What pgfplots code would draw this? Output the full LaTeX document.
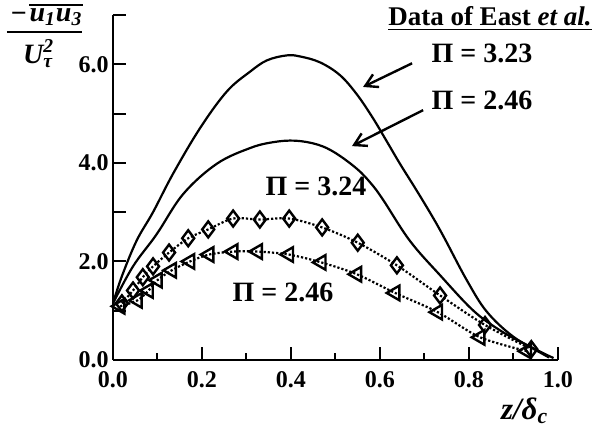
\documentclass[border=0pt]{standalone}
\usepackage{fontspec}
\setmainfont{Liberation Serif}
\usepackage{pgfplots}
\pgfplotsset{compat=1.18}
\usetikzlibrary{arrows.meta}
\begin{document}
\begin{tikzpicture}
\begin{axis}[
  at={(0,0)}, anchor=south west,
  scale only axis, width=222.5pt, height=172.5pt,
  xmin=0, xmax=1, ymin=0, ymax=7,
  axis lines=left,
  axis line style={-, line width=1.4pt},
  tick align=inside,
  every tick/.style={black, line width=1pt},
  major tick length=6.5pt, minor tick length=3.5pt,
  xtick={0,0.2,0.4,0.6,0.8,1.0},
  xticklabels={0.0,0.2,0.4,0.6,0.8,1.0},
  minor xtick={0.1,0.3,0.5,0.7,0.9},
  ytick={0,1,2,3,4,5,6,7},
  yticklabels={0.0,,2.0,,4.0,,6.0,},
  tick label style={font=\fontsize{12}{14}\selectfont\bfseries},
  xticklabel style={yshift=-2pt},
  yticklabel style={inner xsep=2pt},
  clip=false,
]
% solid curve Pi = 3.23
\addplot[black, line width=1.1pt, smooth, tension=0.6] coordinates {
(0,1.15) (0.02,1.7) (0.053,2.42) (0.09,3.0) (0.135,3.78) (0.196,4.71)
(0.256,5.45) (0.308,5.85) (0.346,6.08) (0.39,6.18) (0.42,6.16) (0.465,6.04)
(0.51,5.78) (0.548,5.39) (0.584,4.91) (0.615,4.44) (0.645,3.98) (0.683,3.43)
(0.719,2.89) (0.745,2.47) (0.795,1.62) (0.84,0.98) (0.9,0.47) (0.96,0.17) (0.99,0.04)};
% solid curve Pi = 2.46
\addplot[black, line width=1.1pt, smooth, tension=0.6] coordinates {
(0,1.15) (0.045,1.9) (0.098,2.55) (0.158,3.37) (0.233,3.98) (0.308,4.3)
(0.36,4.42) (0.41,4.45) (0.46,4.37) (0.50,4.2) (0.548,3.88) (0.58,3.58)
(0.607,3.25) (0.667,2.42) (0.735,1.72) (0.81,1.0) (0.87,0.6) (0.93,0.3) (0.98,0.05)};
% diamonds Pi = 3.24
\addplot[black, line width=1.1pt, densely dotted, smooth, tension=0.5,
  mark=diamond, mark size=4pt, mark options={solid, line width=1.2pt, fill=white}] coordinates {
(0.02,1.15) (0.045,1.41) (0.067,1.68) (0.09,1.9) (0.126,2.18) (0.169,2.47)
(0.214,2.65) (0.27,2.87) (0.33,2.85) (0.396,2.87) (0.47,2.69) (0.55,2.38)
(0.638,1.92) (0.735,1.31) (0.836,0.71) (0.94,0.22)};
% triangles Pi = 2.46
\addplot[black, line width=1.1pt, densely dotted, smooth, tension=0.5,
  mark=triangle, mark size=4.2pt, mark options={solid, line width=1.2pt, fill=white, rotate=90}] coordinates {
(0.016,1.09) (0.055,1.21) (0.08,1.41) (0.10,1.62) (0.132,1.82) (0.173,2.0)
(0.216,2.14) (0.27,2.2) (0.325,2.2) (0.395,2.14) (0.468,1.98) (0.548,1.74)
(0.634,1.36) (0.73,0.97) (0.825,0.46) (0.93,0.18)};
\coordinate (tData) at (axis cs:0.847,6.93);
\coordinate (tA) at (axis cs:0.829,6.22);
\coordinate (tB) at (axis cs:0.829,5.27);
\coordinate (tC) at (axis cs:0.456,3.52);
\coordinate (tD) at (axis cs:0.382,1.37);
\coordinate (a1s) at (axis cs:0.672,6.02);
\coordinate (a1e) at (axis cs:0.562,5.54);
\coordinate (a2s) at (axis cs:0.697,5.07);
\coordinate (a2e) at (axis cs:0.537,4.34);
\coordinate (xlab) at (axis cs:0.925,-1.03);
\end{axis}
\node[font=\fontsize{13.5}{15}\selectfont\bfseries] at (tData) {\underline{Data of East \textit{et al.}}};
\node[font=\fontsize{14}{16}\selectfont\bfseries] at (tA) {Π = 3.23};
\node[font=\fontsize{14}{16}\selectfont\bfseries] at (tB) {Π = 2.46};
\node[font=\fontsize{14}{16}\selectfont\bfseries] at (tC) {Π = 3.24};
\node[font=\fontsize{14}{16}\selectfont\bfseries] at (tD) {Π = 2.46};
\draw[line width=1.2pt, -{Straight Barb[length=6pt,width=7pt]}] (a1s) -- (a1e);
\draw[line width=1.2pt, -{Straight Barb[length=6pt,width=7pt]}] (a2s) -- (a2e);
\node[font=\fontsize{14}{16}\selectfont\bfseries\itshape, inner sep=0pt] (num) at (-28.5pt,171.5pt) {u\textsubscript{1}u\textsubscript{3}};
\draw[line width=1pt] ([yshift=1.5pt]num.north west) -- ([yshift=1.5pt]num.north east);
\node[font=\fontsize{14}{16}\selectfont\bfseries, inner sep=0pt, anchor=east] at ([xshift=-1pt]num.west) {−};
\draw[line width=1.2pt] (-53pt,164pt) -- (-15.5pt,164pt);
\node[font=\fontsize{14}{16}\selectfont\bfseries\itshape, inner sep=0pt] at (-37.5pt,153pt) {U\rlap{\textsuperscript{2}}\textsubscript{τ}};
\node[font=\fontsize{15.5}{17}\selectfont\bfseries\itshape] at (xlab) {z/δ\textsubscript{c}};
\pgfresetboundingbox
\path[use as bounding box] (-56.5pt,-39pt) rectangle (241.5pt,180pt);
\end{tikzpicture}
\end{document}
